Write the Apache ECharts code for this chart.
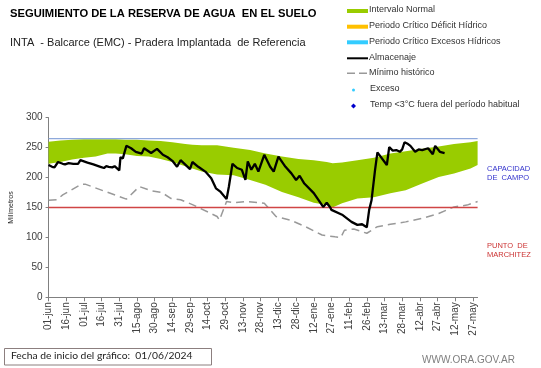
<!DOCTYPE html>
<html>
<head>
<meta charset="utf-8">
<script src="https://cdn.jsdelivr.net/npm/echarts@6/dist/echarts.min.js"></script>
<style>html,body{margin:0;padding:0;background:#fff}#c{width:541px;height:368px}</style>
</head>
<body>
<div id="c"></div>
<script>
// ---- DATA ----
const tickLabels = ['01-jun','16-jun','01-jul','16-jul','31-jul','15-ago','30-ago','14-sep','29-sep','14-oct','29-oct','13-nov','28-nov','13-dic','28-dic','12-ene','27-ene','11-feb','26-feb','13-mar','28-mar','12-abr','27-abr','12-may','27-may'];
const dayCount = 365;
const tickStep = 15;

const bandDays  = [0,10,20,30,40,50,57,65,75,85,95,105,116,122,130,143,157,171,184,198,212,225,236,241,249,262,276,290,303,317,331,344,358,364];
const bandUpper = [260,262,263,264,264,264,264,263,263,262,261,259,256,255,254,254,250,246,240,235,231,229,226,224,225,229,233,240,244,248,252,256,259,261];
const bandLower = [223,226,230,233,235,240,240,239,236,235,231,226,219,215,210,205,204,196,188,176,167,158,154,150,157,165,167,174,179,190,201,207,215,221];

const almacenaje = [[0,221],[3,218],[5,217],[8,226],[12,223],[14,222],[17,224],[21,223],[25,223],[27,229],[33,225],[38,222],[44,218],[47,216],[49,219],[51,218],[54,217],[56,219],[60,212],[61,234],[63,232],[64,233],[66,253],[70,249],[74,243],[79,240],[81,249],[87,241],[92,248],[97,238],[101,234],[105,228],[109,218],[112,229],[120,214],[122,226],[127,218],[133,210],[138,199],[142,182],[146,176],[151,164],[153,185],[156,223],[160,216],[164,213],[167,196],[169,227],[172,213],[175,223],[178,210],[183,238],[188,218],[191,210],[195,235],[201,218],[206,207],[210,196],[213,203],[217,190],[225,174],[233,151],[236,158],[239,150],[240,146],[249,138],[257,126],[262,121],[266,122],[270,117],[272,146],[274,162],[277,213],[279,242],[287,221],[289,251],[292,245],[295,246],[298,243],[300,247],[302,259],[305,256],[307,253],[311,243],[314,247],[317,246],[322,249],[326,239],[328,253],[332,243],[336,241]];

const minimoHistorico = [[0,162],[7,163],[12,171],[28,189],[31,189],[66,164],[77,185],[87,178],[96,175],[104,165],[112,163],[123,154],[143,135],[145,129],[151,160],[158,158],[169,160],[183,157],[193,135],[205,129],[218,118],[232,104],[243,101],[248,100],[251,112],[259,114],[270,107],[279,118],[290,122],[303,126],[317,132],[331,140],[344,151],[355,154],[364,160]];

const capacidadCampo = 265;
const puntoMarchitez = 150;

// ---- BUILD ----
const categories = [];
for (let i = 0; i < dayCount; i++) {
  categories.push(i % tickStep === 0 ? tickLabels[i / tickStep] : String(i));
}
const showTick = (i) => i % tickStep === 0;

const chart = echarts.init(document.getElementById('c'), null, {renderer: 'canvas'});
const FONT = '"Liberation Sans", Arial, sans-serif';

const legendX = 347, legendTextX = 369;
const legendRows = [11, 26.7, 42.3, 58.3, 73.3, 90, 106];
const legendText = ['Intervalo Normal','Periodo Crítico Déficit Hídrico','Periodo Crítico Excesos Hídricos','Almacenaje','Mínimo histórico','Exceso','Temp <3°C fuera del período habitual'];

const graphics = [
  {type:'text', left: 10, top: 8, style:{text:'SEGUIMIENTO DE LA RESERVA DE AGUA  EN EL SUELO', font:'bold 11.2px ' + FONT, fill:'#000'}},
  {type:'text', left: 10, top: 37, style:{text:'INTA  - Balcarce (EMC) - Pradera Implantada  de Referencia', font:'11px ' + FONT, fill:'#222'}},
  {type:'rect', shape:{x:legendX, y:legendRows[0]-2, width:21, height:4}, style:{fill:'#99cc00'}},
  {type:'rect', shape:{x:legendX, y:legendRows[1]-2, width:21, height:4}, style:{fill:'#ffc000'}},
  {type:'rect', shape:{x:legendX, y:legendRows[2]-2, width:21, height:4}, style:{fill:'#33ccff'}},
  {type:'line', shape:{x1:legendX, y1:legendRows[3], x2:legendX+21, y2:legendRows[3]}, style:{stroke:'#000', lineWidth:2}},
  {type:'line', shape:{x1:legendX, y1:legendRows[4], x2:legendX+21, y2:legendRows[4]}, style:{stroke:'#999', lineWidth:1.5, lineDash:[8,4]}},
  {type:'circle', shape:{cx:353.5, cy:legendRows[5], r:1.5}, style:{fill:'#33ccff'}},
  {type:'polygon', shape:{points:[[353.5,legendRows[6]-2.5],[356,legendRows[6]],[353.5,legendRows[6]+2.5],[351,legendRows[6]]]}, style:{fill:'#0000cc'}},
  {type:'text', left: 487, top: 165, style:{text:'CAPACIDAD\nDE  CAMPO', font:'7.5px ' + FONT, fill:'#3333cc', lineHeight: 8.5}},
  {type:'text', left: 487, top: 242, style:{text:'PUNTO  DE\nMARCHITEZ', font:'7.5px ' + FONT, fill:'#cc3333', lineHeight: 8.5}},
  {type:'rect', shape:{x:4.5, y:348.5, width:207, height:16.5}, style:{fill:'#fff', stroke:'#8c7f7f', lineWidth:1}},
  {type:'text', left: 11, top: 350.5, style:{text:'Fecha de inicio del gráfico:  01/06/2024', font:'10.3px Lato, ' + FONT, fill:'#222'}},
  {type:'text', right: 26, top: 355, style:{text:'WWW.ORA.GOV.AR', font:'10px ' + FONT, fill:'#7f7f7f'}}
];
legendText.forEach((t, i) => {
  graphics.push({type:'text', left: legendTextX + (i >= 5 ? 1 : 0), top: legendRows[i] - 5.5, style:{text:t, font:'9px ' + FONT, fill:'#333'}});
});

const option = {
  animation: false,
  backgroundColor: '#fff',
  grid: {left: 33.3, right: 63.4, top: 117.7, bottom: 70.7, containLabel: false},
  xAxis: {
    type: 'category', data: categories, boundaryGap: false,
    axisLine: {onZero: false, lineStyle: {color: '#808080', width: 1}},
    axisTick: {interval: showTick, length: 4, lineStyle: {color: '#808080'}},
    axisLabel: {interval: showTick, rotate: 90, fontSize: 10, color: '#404040', fontFamily: FONT, margin: 5},
    splitLine: {show: false}
  },
  yAxis: {
    type: 'value', min: 0, max: 300, interval: 50,
    name: 'Milímetros', nameLocation: 'middle', nameGap: 22, nameRotate: 90,
    nameTextStyle: {fontSize: 7, color: '#222', fontFamily: FONT},
    axisLine: {show: true, lineStyle: {color: '#808080', width: 1}},
    axisTick: {show: true, length: 3, lineStyle: {color: '#808080'}},
    axisLabel: {fontSize: 10, color: '#404040', fontFamily: FONT, margin: 6},
    splitLine: {show: false}
  },
  graphic: graphics,
  series: [
    {type:'line', name:'base', stack:'band', silent:true, symbol:'none', z:1, color:'#99cc00',
     data: bandDays.map((d,i)=>[d, bandLower[i]]), lineStyle:{width:0, opacity:0}},
    {type:'line', name:'Intervalo Normal', stack:'band', silent:true, symbol:'none', z:1, color:'#99cc00',
     data: bandDays.map((d,i)=>[d, bandUpper[i]-bandLower[i]]), lineStyle:{width:0, opacity:0},
     areaStyle:{color:'#99cc00', opacity:1}},
    {type:'line', name:'CC', silent:true, symbol:'none', z:6, color:'#8ea9db',
     data: [[0, capacidadCampo],[dayCount-1, capacidadCampo]], lineStyle:{color:'#8ea9db', width:1.3}},
    {type:'line', name:'PMP', silent:true, symbol:'none', z:6, color:'#d04545',
     data: [[0, puntoMarchitez],[dayCount-1, puntoMarchitez]], lineStyle:{color:'#d04545', width:1.3, opacity:1}},
    {type:'line', name:'Mínimo histórico', silent:true, symbol:'none', z:4, color:'#999999',
     data: minimoHistorico, lineStyle:{color:'#999999', width:1.5, type:[8,5]}},
    {type:'line', name:'Almacenaje', silent:true, symbol:'none', z:7, color:'#000',
     data: almacenaje, lineStyle:{color:'#000', width:2.3}}
  ]
};
chart.setOption(option);
</script>
</body>
</html>
